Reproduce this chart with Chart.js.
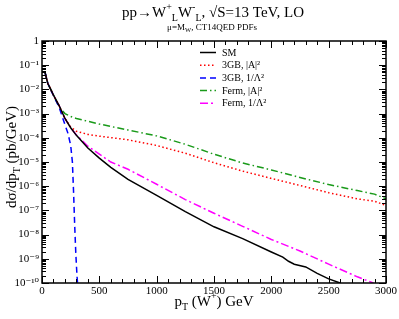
<!DOCTYPE html>
<html>
<head>
<meta charset="utf-8">
<script src="https://cdn.jsdelivr.net/npm/chart.js@4.4.1/dist/chart.umd.min.js"></script>
<style>
  html, body { margin: 0; padding: 0; background: #fff; }
</style>
</head>
<body>
<canvas id="chartContainer" width="399" height="319"></canvas>
<script>
"use strict";

// 1: data (pT in GeV, dsigma/dpT in pb/GeV)
const smPt = [25, 50, 100, 150, 200, 250, 300, 400, 500, 600, 750, 1000, 1250, 1500, 1750, 2000, 2100, 2150, 2200, 2300, 2400, 2500, 2600];
const smVal = [5.4e-2, 1.8e-2, 5.8e-3, 2.1e-3, 6.3e-4, 2.6e-4, 1.26e-4, 3.8e-5, 1.45e-5, 6.0e-6, 1.9e-6, 4.2e-7, 8.9e-8, 2.1e-8, 6.8e-9, 1.9e-9, 1.17e-9, 7.9e-10, 6.0e-10, 4.6e-10, 2.5e-10, 1.48e-10, 1.0e-10];

const gbAPt = [25, 50, 100, 150, 200, 250, 300, 400, 500, 750, 1000, 1250, 1500, 1750, 2000, 2250, 2500, 2750, 2900, 3000];
const gbAVal = [5.4e-2, 1.8e-2, 5.8e-3, 2.1e-3, 6.3e-4, 2.8e-4, 1.86e-4, 1.38e-4, 1.17e-4, 8.3e-5, 4.8e-5, 2.3e-5, 9.3e-6, 4.2e-6, 2.1e-6, 1.07e-6, 5.4e-7, 3.0e-7, 2.4e-7, 1.6e-7];

const gbLPt = [25, 50, 100, 150, 200, 225, 250, 265, 275, 285, 295, 305, 310];
const gbLVal = [5.4e-2, 1.8e-2, 5.6e-3, 1.8e-3, 3.5e-4, 1.6e-4, 5.0e-5, 1.0e-5, 6.3e-7, 2.5e-8, 1.6e-9, 2.0e-10, 1.0e-10];

const fAPt = [25, 50, 100, 150, 200, 250, 300, 400, 500, 750, 1000, 1250, 1500, 1750, 2000, 2250, 2500, 2750, 2900, 3000];
const fAVal = [5.4e-2, 1.8e-2, 6.0e-3, 1.9e-3, 1.0e-3, 7.6e-4, 6.3e-4, 4.8e-4, 3.7e-4, 2.1e-4, 1.2e-4, 5.4e-5, 2.1e-5, 9.1e-6, 4.7e-6, 2.3e-6, 1.17e-6, 6.6e-7, 4.7e-7, 3.0e-7];

const fLPt = [25, 50, 100, 150, 200, 250, 300, 400, 500, 600, 750, 1000, 1250, 1500, 1750, 2000, 2250, 2500, 2750, 2890];
const fLVal = [5.4e-2, 1.8e-2, 5.8e-3, 2.1e-3, 6.3e-4, 2.6e-4, 1.32e-4, 4.5e-5, 2.1e-5, 1.0e-5, 5.0e-6, 1.2e-6, 2.8e-7, 7.6e-8, 2.2e-8, 6.3e-9, 2.1e-9, 6.0e-10, 1.8e-10, 1.0e-10];

const seriesLabels = ['SM', '3GB, |A|\u00b2', '3GB, 1/\u039b\u00b2', 'Ferm, |A|\u00b2', 'Ferm, 1/\u039b\u00b2'];

// tick labels
const xTickLabels = ['0', '500', '1000', '1500', '2000', '2500', '3000'];
const yDecades = [1, 1e-1, 1e-2, 1e-3, 1e-4, 1e-5, 1e-6, 1e-7, 1e-8, 1e-9, 1e-10];
const yTickLabels = ['1', '10\u207b\u00b9', '10\u207b\u00b2', '10\u207b\u00b3', '10\u207b\u2074', '10\u207b\u2075',
  '10\u207b\u2076', '10\u207b\u2077', '10\u207b\u2078', '10\u207b\u2079', '10\u207b\u00b9\u2070'];

const FONT = "'Liberation Serif', 'DejaVu Serif', serif";

// 2: prepare data for chart
function toPoints(xs, ys) {
  let pts = [];
  for (let i = 0; i < xs.length; i++) {
    pts.push({ x: xs[i], y: ys[i] });
  }
  return pts;
}

// draw a run of text pieces, some raised or lowered
function drawRich(ctx, parts, x, y, align) {
  let total = 0;
  for (const p of parts) {
    ctx.font = p.size + 'px ' + FONT;
    p.w = ctx.measureText(p.t).width;
    total += p.w;
  }
  let cx = align === 'center' ? x - total / 2 : x;
  ctx.textAlign = 'left';
  ctx.textBaseline = 'alphabetic';
  for (const p of parts) {
    ctx.font = p.size + 'px ' + FONT;
    ctx.fillText(p.t, cx, y + (p.dy || 0));
    cx += p.w;
  }
}

const decorPlugin = {
  id: 'decor',
  afterDraw(chart) {
    const ctx = chart.ctx;
    const area = chart.chartArea;
    const xs = chart.scales.x;
    const ys = chart.scales.y;
    ctx.save();
    ctx.strokeStyle = '#000';
    ctx.fillStyle = '#000';
    ctx.lineWidth = 1;

    // inward ticks on all four sides
    ctx.beginPath();
    for (const t of xs.ticks) {
      const px = Math.round(xs.getPixelForValue(t.value)) + 0.5;
      const len = t.value % 500 === 0 ? 7 : 4;
      ctx.moveTo(px, area.bottom); ctx.lineTo(px, area.bottom - len);
      ctx.moveTo(px, area.top); ctx.lineTo(px, area.top + len);
    }
    for (const t of ys.ticks) {
      const py = Math.round(ys.getPixelForValue(t.value)) + 0.5;
      const isDecade = yDecades.some(d => Math.abs(Math.log10(t.value) - Math.log10(d)) < 1e-6);
      const len = isDecade ? 7 : 4;
      ctx.moveTo(area.left, py); ctx.lineTo(area.left + len, py);
      ctx.moveTo(area.right, py); ctx.lineTo(area.right - len, py);
    }
    ctx.stroke();

    // frame
    ctx.lineWidth = 1.5;
    ctx.strokeRect(area.left, area.top, area.right - area.left, area.bottom - area.top);

    // title
    drawRich(ctx, [
      { t: 'pp\u2192W', size: 15 },
      { t: '+', size: 10, dy: -7 },
      { t: 'L', size: 10, dy: 4 },
      { t: 'W', size: 15 },
      { t: '-', size: 10, dy: -7 },
      { t: 'L', size: 10, dy: 4 },
      { t: ', \u221aS=13 TeV, LO', size: 15 }
    ], 213, 17, 'center');
    drawRich(ctx, [
      { t: '\u03bc=M', size: 9 },
      { t: 'W', size: 6.5, dy: 2 },
      { t: ', CT14QED PDFs', size: 9 }
    ], 212, 30, 'center');

    // x axis title
    drawRich(ctx, [
      { t: 'p', size: 15 },
      { t: 'T', size: 10, dy: 4 },
      { t: ' (W', size: 15 },
      { t: '+', size: 10, dy: -7 },
      { t: ') GeV', size: 15 }
    ], 214, 306, 'center');

    // y axis title
    ctx.save();
    ctx.translate(16, 157);
    ctx.rotate(-Math.PI / 2);
    drawRich(ctx, [
      { t: 'd\u03c3/dp', size: 15 },
      { t: 'T', size: 10, dy: 4 },
      { t: ' (pb/GeV)', size: 15 }
    ], 0, 0, 'center');
    ctx.restore();

    // legend
    const lx0 = 200, lx1 = 216, tx = 222;
    let ly = 52;
    chart.data.datasets.forEach(ds => {
      ctx.save();
      ctx.strokeStyle = ds.borderColor;
      ctx.lineWidth = ds.borderWidth;
      ctx.setLineDash(ds.borderDash || []);
      ctx.beginPath();
      ctx.moveTo(lx0, ly + 0.5); ctx.lineTo(lx1, ly + 0.5);
      ctx.stroke();
      ctx.restore();
      ctx.font = '10px ' + FONT;
      ctx.textAlign = 'left';
      ctx.textBaseline = 'middle';
      ctx.fillStyle = '#000';
      ctx.fillText(ds.label, tx, ly + 1);
      ly += 12.7;
    });
    ctx.restore();
  }
};

// 3: create the chart
function appendChart() {
  const chartContainer = document.getElementById('chartContainer');
  const common = { fill: false, pointRadius: 0, tension: 0, borderWidth: 1.5 };
  new Chart(chartContainer, {
    type: 'line',
    data: {
      datasets: [
        Object.assign({ label: seriesLabels[0], data: toPoints(smPt, smVal), borderColor: '#000000' }, common),
        Object.assign({ label: seriesLabels[1], data: toPoints(gbAPt, gbAVal), borderColor: '#ff0000', borderDash: [1.5, 2.5] }, common),
        Object.assign({ label: seriesLabels[2], data: toPoints(gbLPt, gbLVal), borderColor: '#0000ff', borderDash: [6, 4] }, common),
        Object.assign({ label: seriesLabels[3], data: toPoints(fAPt, fAVal), borderColor: '#1a9a1a', borderDash: [7, 3, 1.5, 3] }, common),
        Object.assign({ label: seriesLabels[4], data: toPoints(fLPt, fLVal), borderColor: '#ff00ff', borderDash: [8, 3, 2, 3] }, common)
      ]
    },
    options: {
      responsive: false,
      animation: false,
      layout: { padding: { top: 41, right: 11, left: 0, bottom: 0 } },
      plugins: {
        legend: { display: false },
        title: { display: false },
        tooltip: { enabled: false }
      },
      scales: {
        x: {
          type: 'linear',
          min: 0,
          max: 3000,
          grid: { display: false, drawTicks: false },
          border: { display: false },
          afterBuildTicks: scale => {
            let t = [];
            for (let v = 0; v <= 3000; v += 100) t.push({ value: v });
            scale.ticks = t;
          },
          ticks: {
            autoSkip: false,
            maxRotation: 0,
            padding: 2,
            color: '#000',
            font: { family: FONT, size: 11 },
            callback: v => (v % 500 === 0 ? xTickLabels[v / 500] : '')
          },
          afterFit: scale => { scale.height = 36; }
        },
        y: {
          type: 'logarithmic',
          min: 1e-10,
          max: 1,
          grid: { display: false, drawTicks: false },
          border: { display: false },
          afterBuildTicks: scale => {
            let t = [];
            for (let i = yDecades.length - 1; i >= 0; i--) {
              for (let m = 1; m <= 9; m++) {
                if (i === 0 && m > 1) break;
                t.push({ value: yDecades[i] * m });
              }
            }
            scale.ticks = t;
          },
          ticks: {
            autoSkip: false,
            padding: 3,
            color: '#000',
            font: { family: FONT, size: 11 },
            callback: v => {
              const i = yDecades.findIndex(d => Math.abs(Math.log10(v) - Math.log10(d)) < 1e-6);
              return i >= 0 ? yTickLabels[i] : '';
            }
          },
          afterFit: scale => { scale.width = 42; }
        }
      }
    },
    plugins: [decorPlugin]
  });
}

appendChart();
</script>
</body>
</html>
